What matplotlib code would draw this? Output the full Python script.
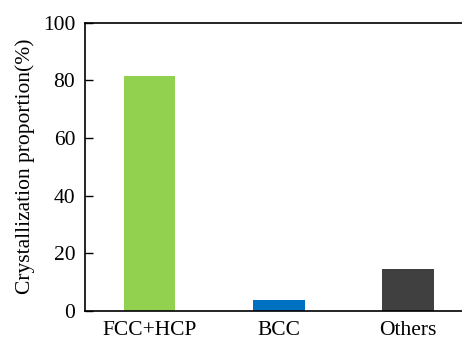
import matplotlib.pyplot as plt

categories = ["FCC+HCP", "BCC", "Others"]
proportions = [81.6, 3.8, 14.5]
colors = ["#92D050", "#0070C0", "#404040"]

plt.rcParams["font.family"] = ["Liberation Serif", "DejaVu Serif"]

fig = plt.figure(figsize=(4.62, 3.4), dpi=100)
ax = fig.add_axes([85 / 462, 29 / 340, 377 / 462, 288.5 / 340])

x = range(len(categories))
ax.bar(x, proportions, width=0.4, color=colors)

ax.set_xlim(-0.5, 2 + (462 - 408) / 129)
ax.set_ylim(0, 100)
ax.set_yticks([0, 20, 40, 60, 80, 100])
ax.set_xticks(list(x))
ax.set_xticklabels(categories)
ax.tick_params(axis="y", direction="in", length=6, width=1, labelsize=15.5, pad=7)
ax.tick_params(axis="x", length=0, labelsize=15.5, pad=7)
ax.set_ylabel("Crystallization proportion(%)", fontsize=15.5, labelpad=6)

ax.spines["right"].set_visible(False)
for s in ["left", "top", "bottom"]:
    ax.spines[s].set_linewidth(1.2)

fig.savefig("out.png", dpi=100)
